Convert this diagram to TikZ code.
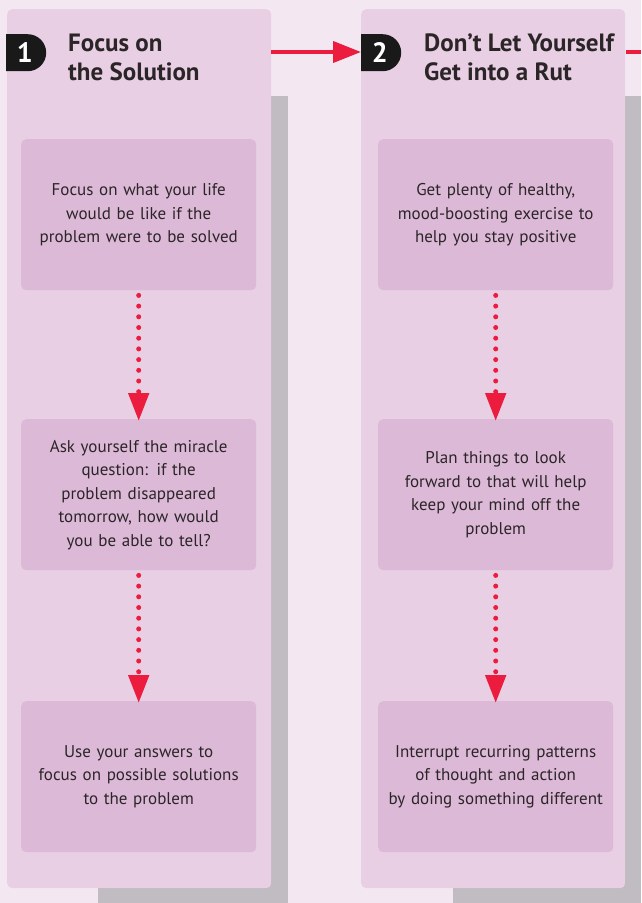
\documentclass[tikz,border=0pt]{standalone}
\usepackage{fontspec}
\setmainfont{PT Sans}
\usetikzlibrary{arrows.meta,shapes.misc}
\definecolor{bgc}{HTML}{F3E7F1}
\definecolor{panelc}{HTML}{E8CFE4}
\definecolor{boxc}{HTML}{DDB9D8}
\definecolor{shadowc}{HTML}{C1BBC2}
\definecolor{redc}{HTML}{EC1C3E}
\definecolor{txtc}{HTML}{2B2527}
\tikzset{
  panel/.style={fill=panelc, rounded corners=5pt, minimum width=264pt, minimum height=879pt, inner sep=0pt, anchor=north west},
  stepbox/.style={fill=boxc, rounded corners=5pt, minimum width=235pt, minimum height=151pt, text width=230pt, align=center, inner sep=0pt, anchor=north west, text=txtc, font=\fontsize{17}{23.5}\selectfont},
  badge/.style={fill=black!90, rounded rectangle, rounded rectangle left arc=none, minimum width=40pt, minimum height=37pt, inner sep=0pt, text=white, font=\bfseries\fontsize{28}{28}\selectfont, anchor=north west},
  title/.style={anchor=north west, align=left, inner sep=0pt, text=txtc, font=\bfseries\fontsize{25}{29.5}\selectfont},
  flow/.style={redc, line width=5pt, line cap=round, dash pattern=on 0pt off 10.7pt, -{Triangle[width=20pt,length=28pt,line cap=butt]}, shorten >=-2pt},
  link/.style={redc, line width=4pt, -{Triangle[width=21pt,length=28pt]}}
}
\begin{document}
\begin{tikzpicture}[x=1pt,y=-1pt]
\useasboundingbox (0,0) rectangle (641,903);
\fill[bgc] (0,0) rectangle (641,903);
% shadows
\fill[shadowc] (98,96) rectangle (288,903);
\fill[shadowc] (453,96) rectangle (641,903);
% panels
\node[panel] (p1) at (7,9) {};
\node[panel] (p2) at (361,9) {};
% badges and titles
\node[badge] (b1) at (6,34) {1\hspace{3pt}};
\node[badge] (b2) at (361,34) {2\hspace{3pt}};
\node[title] (t1) at (68,33.5) {Focus on\\the Solution};
\node[title] (t2) at (424,33.5) {Don’t Let Yourself\\Get into a Rut};
% boxes panel 1
\node[stepbox] (a1) at (21,139) {Focus on what your life\\would be like if the\\problem were to be solved};
\node[stepbox] (a2) at (21,419) {Ask yourself the miracle\\question: if the\\problem disappeared\\tomorrow, how would\\you be able to tell?};
\node[stepbox] (a3) at (21,701) {Use your answers to\\focus on possible solutions\\to the problem};
% boxes panel 2
\node[stepbox] (c1) at (378,139) {Get plenty of healthy,\\mood-boosting exercise to\\help you stay positive};
\node[stepbox] (c2) at (378,419) {Plan things to look\\forward to that will help\\keep your mind off the\\problem};
\node[stepbox] (c3) at (378,701) {Interrupt recurring patterns\\of thought and action\\by doing something different};
% dotted arrows
\draw[flow] ([yshift=-5pt]a1.south) -- (a2.north);
\draw[flow] ([yshift=-5pt]a2.south) -- (a3.north);
\draw[flow] ([yshift=-5pt]c1.south) -- (c2.north);
\draw[flow] ([yshift=-5pt]c2.south) -- (c3.north);
% horizontal connectors
\coordinate (p1e) at (271,52);
\coordinate (offr) at (641,52);
\coordinate (p2e) at (626,52);
\draw[link] (p1e) -- (b2.west |- p1e);
\draw[redc, line width=4pt] (p2e) -- (offr);
\end{tikzpicture}
\end{document}
